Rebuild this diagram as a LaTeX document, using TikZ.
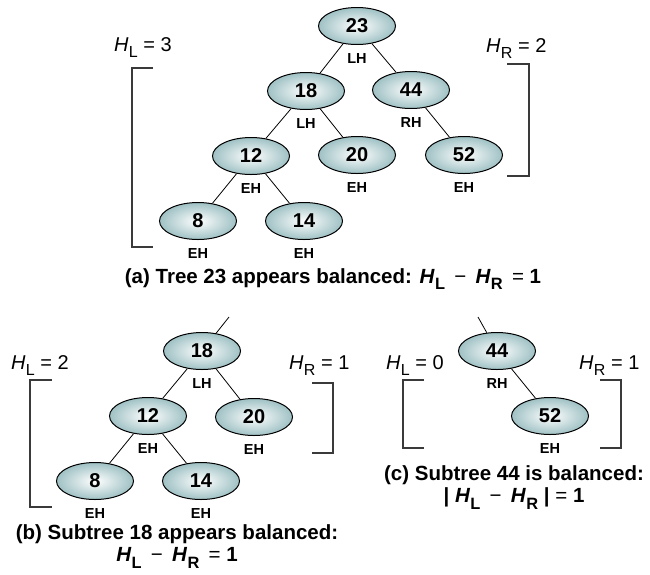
\documentclass[tikz,border=0pt]{standalone}
\usepackage{fontspec}
\setmainfont{Liberation Sans}
\usetikzlibrary{shapes.geometric, positioning}
\definecolor{avlteal}{HTML}{9FC1C4}
\definecolor{brkgray}{HTML}{3A3A3A}
\tikzstyle{avlnode}=[ellipse, draw=black, line width=1pt, minimum width=77pt, minimum height=37pt, inner sep=0pt, shading=radial, inner color=white, outer color=avlteal, font=\fontsize{20}{22}\selectfont\bfseries]
\tikzstyle{bal}=[inner sep=0pt, font=\fontsize{14.5}{16}\selectfont\bfseries]
\tikzstyle{link}=[line width=0.8pt]
\tikzstyle{brk}=[line width=1.1pt, draw=brkgray]
\tikzstyle{hgt}=[inner sep=0pt, anchor=base west, font=\fontsize{20}{22}\selectfont]
\tikzstyle{caption}=[inner sep=0pt, align=center, anchor=north, font=\fontsize{20.5}{22.5}\selectfont\bfseries]
\newcommand{\hsub}[1]{\textit{H}\kern0.3pt\raisebox{-0.32em}{\scalebox{0.8}{#1}}}
\newcommand{\gap}{\hspace{0.45em}}

\begin{document}
\begin{tikzpicture}[x=1pt, y=-1pt, node distance=8pt]
    \useasboundingbox (0,0) rectangle (650,574);

    % (a) whole tree
    \node[avlnode] (a23) at (357,26) {23};
    \node[avlnode] (a18) at (306,91) {18};
    \node[avlnode] (a44) at (411,90) {44};
    \node[avlnode] (a12) at (251,156) {12};
    \node[avlnode] (a20) at (357,155) {20};
    \node[avlnode] (a52) at (464,155) {52};
    \node[avlnode] (a8) at (198,221) {8};
    \node[avlnode] (a14) at (304,221) {14};
    \node[bal, below=of a23] (la23) {LH};
    \node[bal, below=of a18] (la18) {LH};
    \node[bal, below=of a44] (la44) {RH};
    \node[bal, below=of a12] (la12) {EH};
    \node[bal, below=of a20] (la20) {EH};
    \node[bal, below=of a52] (la52) {EH};
    \node[bal, below=of a8] (la8) {EH};
    \node[bal, below=of a14] (la14) {EH};

    \draw[link] (a23) -- (a18);
    \draw[link] (a23) -- (a44);
    \draw[link] (a18) -- (a12);
    \draw[link] (a18) -- (a20);
    \draw[link] (a44) -- (a52);
    \draw[link] (a12) -- (a8);
    \draw[link] (a12) -- (a14);

    \node[hgt] (ahl) at (114,51) {\hsub{L} = 3};
    \node[hgt] (ahr) at (486,52) {\hsub{R} = 2};
    \draw[brk] (153,68) -- (132,68) -- (132,247) -- (153,247);
    \draw[brk] (507,64) -- (529,64) -- (529,176) -- (507,176);
    \node[caption] (capa) at (333,268) {(a) Tree 23 appears balanced: \hsub{L}\gap{\mdseries −}\gap\hsub{R}\gap{\mdseries =} 1};

    % (b) subtree 18
    \coordinate (sb18) at (229,317);
    \node[avlnode] (b18) at (202,351) {18};
    \node[avlnode] (b12) at (148,416) {12};
    \node[avlnode] (b20) at (254,417) {20};
    \node[avlnode] (b8) at (95,481) {8};
    \node[avlnode] (b14) at (201,481) {14};
    \node[bal, below=of b18] (lb18) {LH};
    \node[bal, below=of b12] (lb12) {EH};
    \node[bal, below=of b20] (lb20) {EH};
    \node[bal, below=of b8] (lb8) {EH};
    \node[bal, below=of b14] (lb14) {EH};

    \draw[link] (b18) -- (sb18);
    \draw[link] (b18) -- (b12);
    \draw[link] (b18) -- (b20);
    \draw[link] (b12) -- (b8);
    \draw[link] (b12) -- (b14);

    \node[hgt] (bhl) at (11,369) {\hsub{L} = 2};
    \node[hgt] (bhr) at (289,369) {\hsub{R} = 1};
    \draw[brk] (52,380) -- (30,380) -- (30,507) -- (52,507);
    \draw[brk] (312,383) -- (333,383) -- (333,453) -- (312,453);
    \node[caption] (capb) at (177,524) {(b) Subtree 18 appears balanced:\\ \hsub{L}\gap{\mdseries −}\gap\hsub{R}\gap{\mdseries =} 1};

    % (c) subtree 44
    \coordinate (sc44) at (478,317);
    \node[avlnode] (c44) at (497,351) {44};
    \node[avlnode] (c52) at (550,416) {52};
    \node[bal, below=of c44] (lc44) {RH};
    \node[bal, below=of c52] (lc52) {EH};

    \draw[link] (c44) -- (sc44);
    \draw[link] (c44) -- (c52);

    \node[hgt] (chl) at (386,369) {\hsub{L} = 0};
    \node[hgt] (chr) at (579,369) {\hsub{R} = 1};
    \draw[brk] (424,380) -- (403,380) -- (403,448) -- (424,448);
    \draw[brk] (600,380) -- (621,380) -- (621,448) -- (600,448);
    \node[caption] (capc) at (514,465) {(c) Subtree 44 is balanced:\\ | \hsub{L}\gap{\mdseries −}\gap\hsub{R} | {\mdseries =} 1};
\end{tikzpicture}
\end{document}
